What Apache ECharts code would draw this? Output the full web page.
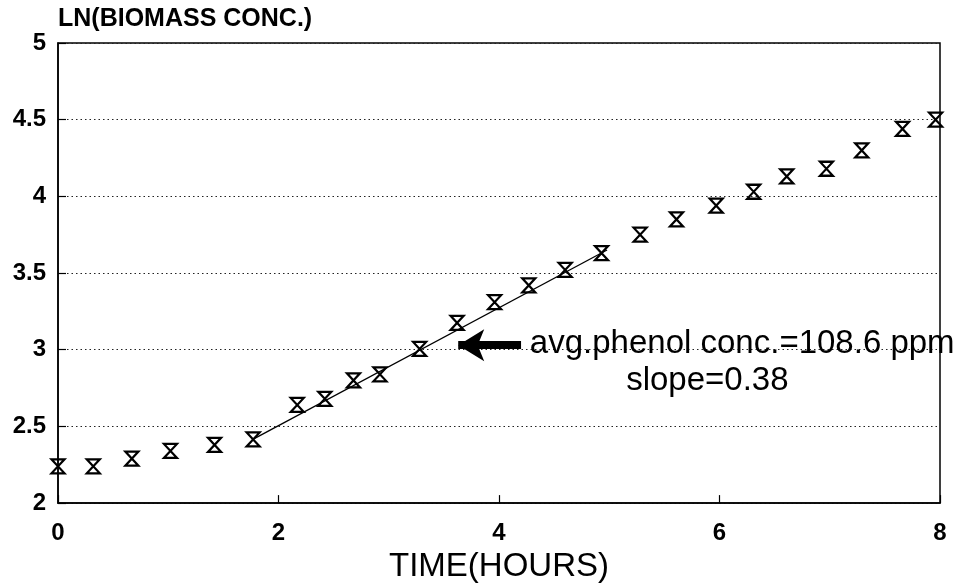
<!DOCTYPE html>
<html>
<head>
<meta charset="utf-8">
<script src="https://cdn.jsdelivr.net/npm/echarts@6/dist/echarts.min.js"></script>
<style>
html,body{margin:0;padding:0;background:#fff;}
#chart{width:980px;height:588px;}
</style>
</head>
<body>
<div id="chart"></div>
<script>
// Data
const timeHours = [0, 0.32, 0.67, 1.02, 1.42, 1.77, 2.17, 2.42, 2.68, 2.92, 3.28, 3.62, 3.96, 4.27, 4.60, 4.93, 5.28, 5.61, 5.97, 6.31, 6.61, 6.97, 7.29, 7.66, 7.96];
const lnBiomass = [2.24, 2.24, 2.29, 2.34, 2.38, 2.415, 2.64, 2.68, 2.80, 2.84, 3.005, 3.175, 3.31, 3.42, 3.52, 3.63, 3.75, 3.85, 3.94, 4.03, 4.13, 4.18, 4.30, 4.44, 4.50];
const fitX = [1.78, 4.98];
const fitY = [2.42, 3.65];
const arrowFrom = [4.2, 3.03];
const arrowTo = [3.63, 3.03];
const noteText = 'avg.phenol conc.=108.6 ppm';
const notePos = [4.28, 3.035];
const slopeText = 'slope=0.38';
const slopePos = [5.89, 2.80];
const xTitle = 'TIME(HOURS)';
const yTitle = 'LN(BIOMASS CONC.)';

const FONT = '"Liberation Sans", Arial, Helvetica, sans-serif';
const chart = echarts.init(document.getElementById('chart'), null, {renderer: 'canvas'});
const pts = timeHours.map((t, i) => [t, lnBiomass[i]]);
const fit = fitX.map((t, i) => [t, fitY[i]]);

chart.setOption({
  animation: false,
  backgroundColor: '#fff',
  grid: {left: 58, right: 40, top: 43, bottom: 83, show: true, borderColor: '#000', borderWidth: 1.5, backgroundColor: 'transparent'},
  xAxis: {
    type: 'value', min: 0, max: 8, interval: 2,
    name: xTitle, nameLocation: 'middle', nameGap: 57,
    nameTextStyle: {fontFamily: FONT, fontSize: 33, color: '#000', verticalAlign: 'middle'},
    axisLine: {lineStyle: {color: '#000', width: 1.5}},
    axisTick: {inside: true, length: 8, lineStyle: {color: '#000', width: 1.2}},
    axisLabel: {fontFamily: FONT, fontSize: 24, fontWeight: 'bold', color: '#000', margin: 18},
    splitLine: {show: false}
  },
  yAxis: {
    type: 'value', min: 2, max: 5, interval: 0.5,
    name: yTitle, nameLocation: 'end', nameGap: 24,
    nameTextStyle: {fontFamily: FONT, fontSize: 25, fontWeight: 'bold', color: '#000', align: 'left', verticalAlign: 'middle'},
    axisLine: {lineStyle: {color: '#000', width: 1.5}},
    axisTick: {inside: true, length: 8, lineStyle: {color: '#000', width: 1.2}},
    axisLabel: {fontFamily: FONT, fontSize: 24, fontWeight: 'bold', color: '#000', margin: 12},
    splitLine: {show: true, lineStyle: {type: [1.5, 3], color: '#222', width: 1}}
  },
  series: [
    {
      type: 'line', data: fit, symbol: 'none', z: 2,
      lineStyle: {color: '#000', width: 1.3},
      markLine: {
        silent: true, symbol: ['none', 'arrow'], symbolSize: [24, 26],
        label: {show: false},
        lineStyle: {color: '#000', width: 8, type: 'solid'},
        data: [[{coord: arrowFrom}, {coord: arrowTo}]]
      }
    },
    {
      type: 'scatter', data: pts, z: 3,
      symbol: 'path://M0,0 L12,0 L0,13 L12,13 Z',
      symbolSize: [13, 14],
      itemStyle: {opacity: 1, color: 'rgba(255,255,255,0)', borderColor: '#000', borderWidth: 2.2}
    },
    {
      type: 'scatter', z: 4, symbolSize: 0, silent: true,
      itemStyle: {opacity: 1},
      data: [
        {value: notePos, label: {formatter: noteText, position: 'right', distance: 0, align: 'left'}},
        {value: slopePos, label: {formatter: slopeText, position: 'inside', align: 'center'}}
      ],
      label: {show: true, fontFamily: FONT, fontSize: 33, color: '#000', verticalAlign: 'middle'}
    }
  ]
});
</script>
</body>
</html>
